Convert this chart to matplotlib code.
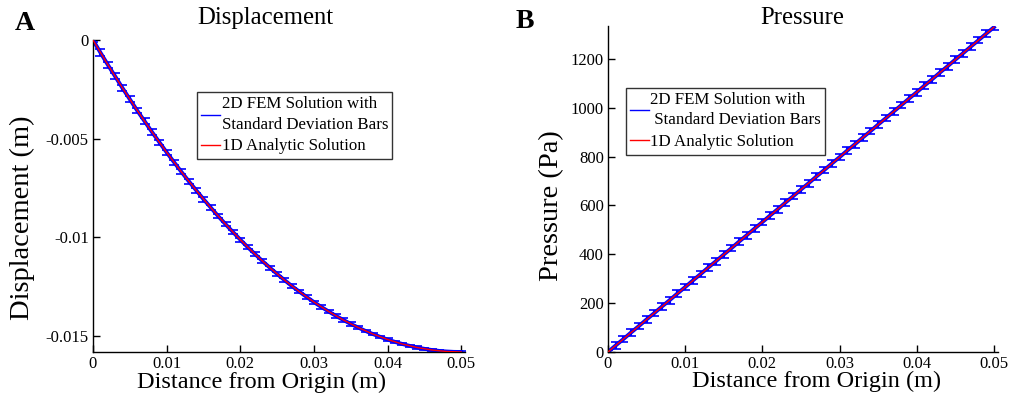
import matplotlib
matplotlib.use("Agg")
import matplotlib.pyplot as plt
from matplotlib.lines import Line2D

plt.rcParams['font.family'] = ['Liberation Serif', 'DejaVu Serif']

# Sample positions along the bar (m)
x_fem = [0.000, 0.001, 0.002, 0.003, 0.004, 0.005, 0.006, 0.007, 0.008, 0.009,
         0.010, 0.011, 0.012, 0.013, 0.014, 0.015, 0.016, 0.017, 0.018, 0.019,
         0.020, 0.021, 0.022, 0.023, 0.024, 0.025, 0.026, 0.027, 0.028, 0.029,
         0.030, 0.031, 0.032, 0.033, 0.034, 0.035, 0.036, 0.037, 0.038, 0.039,
         0.040, 0.041, 0.042, 0.043, 0.044, 0.045, 0.046, 0.047, 0.048, 0.049,
         0.050]

# 2D FEM displacement (m) and its standard deviation
disp_fem = [0.0, -0.000630, -0.001245, -0.001835, -0.002430, -0.003000,
            -0.003570, -0.004110, -0.004655, -0.005170, -0.005690, -0.006185,
            -0.006675, -0.007150, -0.007605, -0.008060, -0.008490, -0.008920,
            -0.009330, -0.009725, -0.010110, -0.010490, -0.010840, -0.011195,
            -0.011525, -0.011850, -0.012160, -0.012460, -0.012740, -0.013010,
            -0.013275, -0.013520, -0.013750, -0.013975, -0.014180, -0.014380,
            -0.014560, -0.014735, -0.014890, -0.015035, -0.015170, -0.015290,
            -0.015395, -0.015490, -0.015570, -0.015640, -0.015700, -0.015745,
            -0.015775, -0.015795, -0.015800]
disp_std = [0.00012, 0.00016, 0.00015, 0.00016, 0.00015, 0.00014, 0.00015,
            0.00014, 0.00014, 0.00013, 0.00013, 0.00013, 0.00012, 0.00012,
            0.00012, 0.00012, 0.00011, 0.00011, 0.00011, 0.00011, 0.00010,
            0.00010, 0.00010, 0.00010, 0.00010, 0.00009, 0.00009, 0.00009,
            0.00009, 0.00009, 0.00008, 0.00008, 0.00008, 0.00008, 0.00008,
            0.00008, 0.00007, 0.00007, 0.00007, 0.00007, 0.00007, 0.00006,
            0.00006, 0.00006, 0.00006, 0.00006, 0.00005, 0.00005, 0.00005,
            0.00005, 0.00005]

# 1D analytic displacement (m)
x_ana = [0.000, 0.002, 0.004, 0.006, 0.008, 0.010, 0.012, 0.014, 0.016,
         0.018, 0.020, 0.022, 0.024, 0.026, 0.028, 0.030, 0.032, 0.034,
         0.036, 0.038, 0.040, 0.042, 0.044, 0.046, 0.048, 0.050]
disp_ana = [0.0, -0.001239, -0.002427, -0.003564, -0.004652, -0.005688,
            -0.006674, -0.007609, -0.008494, -0.009328, -0.010112, -0.010845,
            -0.011528, -0.012160, -0.012741, -0.013272, -0.013752, -0.014182,
            -0.014561, -0.014890, -0.015168, -0.015396, -0.015573, -0.015699,
            -0.015775, -0.015800]

# 2D FEM pressure (Pa) and its standard deviation
pres_fem = [0.0, 26.8, 53.0, 80.1, 106.2, 133.3, 159.4, 186.5, 212.6, 239.7,
            265.8, 292.9, 319.0, 346.1, 372.2, 399.3, 425.4, 452.5, 478.6,
            505.7, 531.8, 558.9, 585.0, 612.1, 638.2, 665.3, 691.4, 718.5,
            744.6, 771.7, 797.8, 824.9, 851.0, 878.1, 904.2, 931.3, 957.4,
            984.5, 1010.6, 1037.7, 1063.8, 1090.9, 1117.0, 1144.1, 1170.2,
            1197.3, 1223.4, 1250.5, 1276.6, 1303.7, 1329.8]
pres_std = [10, 13, 14, 14, 13, 14, 14, 13, 14, 13, 13, 14, 13, 13, 14, 13,
            13, 13, 14, 13, 13, 13, 14, 13, 13, 13, 14, 13, 13, 14, 13, 13,
            14, 13, 13, 14, 13, 14, 13, 13, 14, 13, 14, 13, 14, 13, 14, 14,
            13, 14, 12]

# 1D analytic pressure (Pa)
pres_ana = [0.0, 53.2, 106.4, 159.6, 212.8, 266.0, 319.2, 372.4, 425.6,
            478.8, 532.0, 585.2, 638.4, 691.6, 744.8, 798.0, 851.2, 904.4,
            957.6, 1010.8, 1064.0, 1117.2, 1170.4, 1223.6, 1276.8, 1330.0]

x_ticks = [0, 0.01, 0.02, 0.03, 0.04, 0.05]
x_ticklabels = ['0', '0.01', '0.02', '0.03', '0.04', '0.05']
disp_ticks = [0, -0.005, -0.01, -0.015]
disp_ticklabels = ['0', '-0.005', '-0.01', '-0.015']
pres_ticks = [0, 200, 400, 600, 800, 1000, 1200]
pres_ticklabels = ['0', '200', '400', '600', '800', '1000', '1200']

fem_color = '#0000ff'
ana_color = '#ff0000'

fig = plt.figure(figsize=(10.15, 4.0), dpi=100)
ax1 = fig.add_axes([0.0916, 0.12, 0.3665, 0.78])
ax2 = fig.add_axes([0.599, 0.12, 0.384, 0.815])


def style_axes(ax):
    for side in ('top', 'right'):
        ax.spines[side].set_visible(False)
    for side in ('left', 'bottom'):
        ax.spines[side].set_linewidth(1.0)
    ax.tick_params(direction='in', length=5, width=1, labelsize=12, pad=3)
    ax.set_xticks(x_ticks)
    ax.set_xticklabels(x_ticklabels)
    ax.set_xlim(0, 0.0505)
    ax.set_xlabel('Distance from Origin (m)', fontsize=17.5)


def draw_panel(ax, y_fem, y_std, y_ana):
    ax.errorbar(x_fem, y_fem, yerr=y_std, color=fem_color, lw=2.8,
                elinewidth=1.5, capsize=3.5, capthick=1.2, zorder=2)
    ax.plot(x_ana, y_ana, color=ana_color, lw=1.0, zorder=3)


def draw_legend(ax, fem_label, anchor):
    handles = [Line2D([], [], color=fem_color, lw=1.0),
               Line2D([], [], color=ana_color, lw=1.0)]
    leg = ax.legend(handles, [fem_label, '1D Analytic Solution'],
                    loc='upper left', bbox_to_anchor=anchor,
                    fontsize=12.2, frameon=True, fancybox=False,
                    handlelength=1.1, handletextpad=0.1, borderpad=0.25,
                    labelspacing=0.35, borderaxespad=0)
    for t in leg.get_texts():
        t.set_linespacing(1.35)
    leg.get_frame().set_edgecolor('black')
    leg.get_frame().set_linewidth(1.0)
    return leg


# Panel A: displacement
draw_panel(ax1, disp_fem, disp_std, disp_ana)
style_axes(ax1)
ax1.set_ylim(-0.0158, 0)
ax1.set_yticks(disp_ticks)
ax1.set_yticklabels(disp_ticklabels)
ax1.set_ylabel('Displacement (m)', fontsize=20.5)
ax1.yaxis.set_label_coords(-0.155, 0.43)
ax1.xaxis.set_label_coords(0.454, -0.062)
draw_legend(ax1, '2D FEM Solution with\nStandard Deviation Bars',
            (0.28, 0.833))

# Panel B: pressure
draw_panel(ax2, pres_fem, pres_std, pres_ana)
style_axes(ax2)
ax2.set_ylim(0, 1335)
ax2.set_yticks(pres_ticks)
ax2.set_yticklabels(pres_ticklabels)
ax2.set_ylabel('Pressure (Pa)', fontsize=20.5)
ax2.yaxis.set_label_coords(-0.112, 0.448)
ax2.xaxis.set_label_coords(0.536, -0.059)
draw_legend(ax2, '2D FEM Solution with\n Standard Deviation Bars',
            (0.046, 0.81))

# Panel titles and letters
fig.text(265 / 1015, 1 - 18 / 400, 'Displacement', fontsize=17.8,
         ha='center', va='center')
fig.text(802 / 1015, 1 - 18 / 400, 'Pressure', fontsize=17.8,
         ha='center', va='center')
fig.text(0.015, 0.94, 'A', fontsize=20, fontweight='bold', va='center')
fig.text(0.508, 0.945, 'B', fontsize=20, fontweight='bold', va='center')

fig.savefig('out.png', dpi=100)
